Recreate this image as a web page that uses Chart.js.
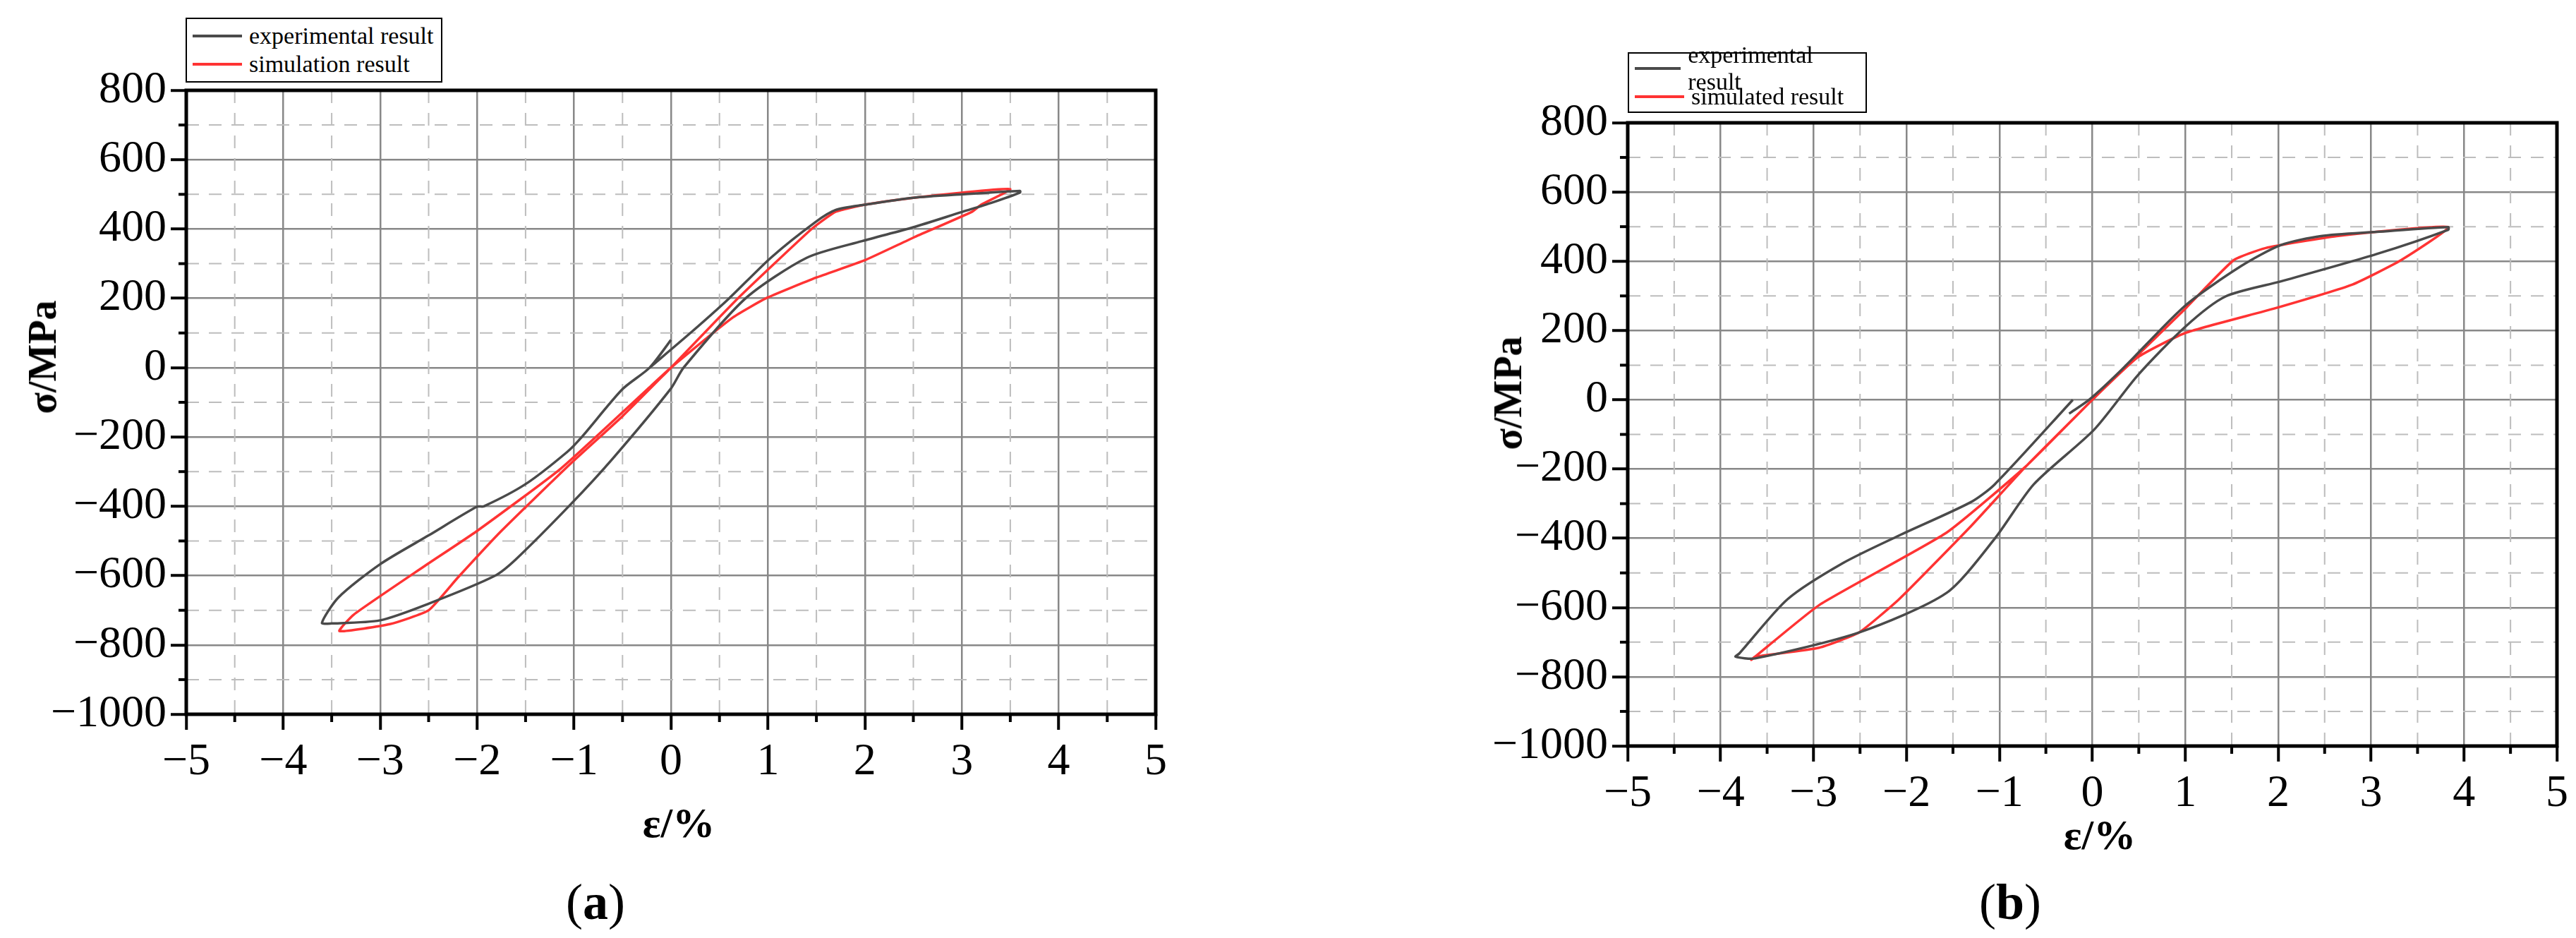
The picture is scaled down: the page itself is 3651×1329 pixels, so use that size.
<!DOCTYPE html>
<html>
<head>
<meta charset="utf-8">
<script src="https://cdn.jsdelivr.net/npm/chart.js@4.4.1/dist/chart.umd.min.js"></script>
<style>
  body { margin: 0; width: 3651px; height: 1329px; background: #fff; position: relative; overflow: hidden; font-family: "Liberation Serif", serif; }
  canvas { position: absolute; top: 0; }
  .legend { position: absolute; border: 2px solid #000; background: #fff; font-size: 34px; box-sizing: border-box; padding: 4px 8px; }
  .legend div { display: flex; align-items: center; height: 40px; }
  .legend span { display: inline-block; width: 70px; height: 4px; margin-right: 10px; }
  .lbl { position: absolute; font-weight: bold; transform: translate(-50%, -50%); white-space: nowrap; }
  .ylbl { position: absolute; font-weight: bold; font-size: 56px; transform: translate(-50%, -50%) rotate(-90deg); white-space: nowrap; }
</style>
</head>
<body>
<canvas id="ca"></canvas>
<canvas id="cb"></canvas>

<div class="legend" style="left:263px;top:25px;width:364px;height:92px">
  <div><span style="background:#4a4a4a"></span>experimental result</div>
  <div><span style="background:#ff3333"></span>simulation result</div>
</div>
<div class="legend" style="left:2307px;top:74px;width:339px;height:86px;padding-top:1px">
  <div><span style="background:#4a4a4a"></span>experimental result</div>
  <div><span style="background:#ff3333"></span>simulated result</div>
</div>

<div class="ylbl" style="left:60px;top:506px">σ/MPa</div>
<div class="ylbl" style="left:2137px;top:557px">σ/MPa</div>
<div class="lbl" style="left:962px;top:1166px;font-size:60px">ε/%</div>
<div class="lbl" style="left:2976px;top:1183px;font-size:60px">ε/%</div>
<div class="lbl" style="left:844px;top:1278px;font-size:72px;font-weight:normal">(<b>a</b>)</div>
<div class="lbl" style="left:2849px;top:1278px;font-size:72px;font-weight:normal">(<b>b</b>)</div>

<script>
// panel (a) – strain %, stress MPa
const expA_x = [0, -0.22, -0.5, -0.92, -1.07, -1.5, -1.93, -2.0, -2.5, -3.0, -3.43, -3.6,
  -3.5, -3.0, -2.5, -1.82, -1.6, -1.03, -0.6, 0, 0.13, 0.77, 1.4, 1.97, 2.5, 3.0, 3.3, 3.6,
  3.6, 3.0, 2.5, 2.0, 1.7, 1.49, 1.03, 0.6, 0.2, -0.22];
const expA_y = [80, 0, -62, -200, -243, -336, -400, -401, -484, -567, -663, -736,
  -738, -729, -681, -601, -553, -393, -262, -60, 0, 200, 317, 365, 405, 449, 475, 505,
  510, 500, 490, 470, 455, 420, 317, 200, 100, 0];
const simA_x = [0, 0.69, 1.45, 1.7, 2.0, 2.5, 3.0, 3.5,
  3.2, 3.1, 2.5, 2.0, 1.5, 0.98, 0.64, 0,
  -0.2, -1.14, -2.0, -2.55, -3.27, -3.42,
  -2.9, -2.5, -2.2, -1.75, -1.04, -0.5, 0];
const simA_y = [0, 200, 400, 450, 470, 490, 505, 515,
  470, 449, 375, 310, 260, 200, 145, 0,
  -51, -292, -471, -574, -712, -760,
  -740, -700, -606, -471, -278, -140, 0];

// panel (b)
const expB_x = [-0.21, -1.05, -1.31, -2.08, -2.68, -3.28, -3.8, -3.84,
  -3.63, -2.51, -1.57, -1.05, -0.63, 0.02, 0.49, 1.0, 1.43, 2.03, 3.06, 3.83,
  3.83, 3.06, 2.46, 2.03, 1.6, 1.0, 0.32, -0.03, -0.25];
const expB_y = [0, -244, -296, -392, -471, -576, -733, -742,
  -747, -672, -558, -401, -244, -86, 71, 211, 298, 342, 421, 491,
  499, 485, 473, 447, 386, 272, 88, 1, -40];
const simB_x = [0, 0.4, 1.0, 1.52, 1.86, 2.63, 3.83,
  3.32, 2.8, 1.95, 1.0, 0.49, 0,
  -0.71, -1.57, -2.94, -3.67,
  -3.63, -2.94, -2.51, -2.08, -1.31, -0.71, 0];
const simB_y = [0, 106, 263, 403, 438, 473, 499,
  403, 333, 263, 193, 123, 0,
  -191, -384, -593, -751,
  -742, -716, -672, -576, -366, -191, 0];

const xTicks = [-5, -4, -3, -2, -1, 0, 1, 2, 3, 4, 5];
const yTicks = [-1000, -800, -600, -400, -200, 0, 200, 400, 600, 800];

const pts = (xs, ys) => xs.map((x, i) => ({ x: x, y: ys[i] }));
const fmt = v => (v < 0 ? "\u2212" + Math.abs(v) : String(v));

// dashed minor grid, minor ticks and the heavy black frame
const framePlugin = {
  id: "frame",
  beforeDatasetsDraw(chart) {
    const { ctx, chartArea: a, scales: { x, y } } = chart;
    ctx.save();
    ctx.strokeStyle = "#bdbdbd";
    ctx.lineWidth = 2;
    ctx.setLineDash([18, 14]);
    for (let v = -4.5; v < 5; v += 1) {
      const px = x.getPixelForValue(v);
      ctx.beginPath(); ctx.moveTo(px, a.top); ctx.lineTo(px, a.bottom); ctx.stroke();
    }
    for (let v = -900; v < 800; v += 200) {
      const py = y.getPixelForValue(v);
      ctx.beginPath(); ctx.moveTo(a.left, py); ctx.lineTo(a.right, py); ctx.stroke();
    }
    ctx.restore();
  },
  afterDatasetsDraw(chart) {
    const { ctx, chartArea: a, scales: { x, y } } = chart;
    ctx.save();
    ctx.strokeStyle = "#000";
    ctx.lineWidth = 4;
    for (let v = -4.5; v < 5; v += 1) {
      const px = x.getPixelForValue(v);
      ctx.beginPath(); ctx.moveTo(px, a.bottom); ctx.lineTo(px, a.bottom + 11); ctx.stroke();
    }
    for (let v = -900; v < 800; v += 200) {
      const py = y.getPixelForValue(v);
      ctx.beginPath(); ctx.moveTo(a.left, py); ctx.lineTo(a.left - 11, py); ctx.stroke();
    }
    ctx.lineWidth = 5;
    ctx.strokeRect(a.left, a.top, a.right - a.left, a.bottom - a.top);
    ctx.restore();
  },
};

function makeChart(id, left, plotLeft, plotRight, plotTop, plotBottom, exp, sim) {
  const el = document.getElementById(id);
  const w = plotRight - left + 40;
  el.style.left = left + "px";
  el.style.width = w + "px";
  el.style.height = "1329px";
  el.width = w;
  el.height = 1329;
  return new Chart(el, {
    type: "scatter",
    data: {
      datasets: [
        { data: exp, showLine: true, borderColor: "#4a4a4a", borderWidth: 3.5, pointRadius: 0, tension: 0.25 },
        { data: sim, showLine: true, borderColor: "#ff3333", borderWidth: 3.5, pointRadius: 0, tension: 0.15 },
      ],
    },
    options: {
      responsive: false,
      animation: false,
      devicePixelRatio: 1,
      layout: { padding: { top: plotTop, right: 40, left: 0, bottom: 0 } },
      plugins: { legend: { display: false }, tooltip: { enabled: false } },
      scales: {
        x: {
          type: "linear", min: -5, max: 5,
          afterBuildTicks: s => { s.ticks = xTicks.map(v => ({ value: v })); },
          afterFit: s => { s.height = 1329 - plotBottom; },
          grid: { color: "#888", lineWidth: 2.5, tickLength: 22, tickColor: "#000", tickWidth: 4 },
          border: { display: false },
          ticks: { color: "#000", font: { family: "Liberation Serif", size: 64 }, padding: 8, callback: fmt, maxRotation: 0 },
        },
        y: {
          type: "linear", min: -1000, max: 800,
          afterBuildTicks: s => { s.ticks = yTicks.map(v => ({ value: v })); },
          afterFit: s => { s.width = plotLeft - left; },
          grid: { color: "#888", lineWidth: 2.5, tickLength: 22, tickColor: "#000", tickWidth: 4 },
          border: { display: false },
          ticks: { color: "#000", font: { family: "Liberation Serif", size: 64 }, padding: 6, callback: fmt },
        },
      },
    },
    plugins: [framePlugin],
  });
}

makeChart("ca", 0, 264, 1638, 128, 1012, pts(expA_x, expA_y), pts(simA_x, simA_y));
makeChart("cb", 2000, 2307, 3624, 174, 1057, pts(expB_x, expB_y), pts(simB_x, simB_y));
</script>
</body>
</html>
